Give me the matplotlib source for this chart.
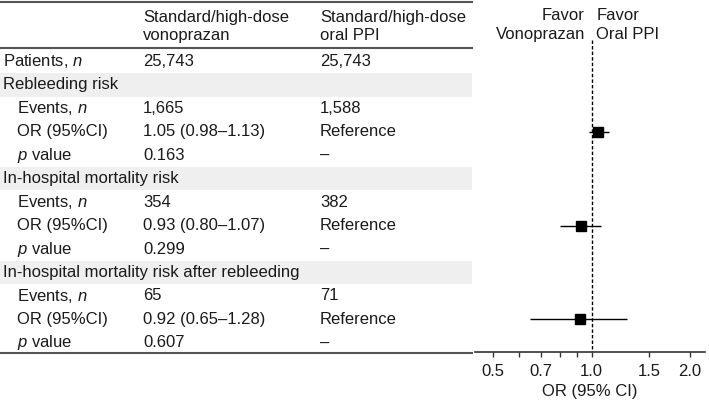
import numpy as np
import matplotlib.pyplot as plt
from matplotlib.patches import Rectangle

plt.rcParams['font.family'] = ['Liberation Sans', 'DejaVu Sans']
plt.rcParams['mathtext.fontset'] = 'custom'
plt.rcParams['mathtext.rm'] = 'Liberation Sans'
plt.rcParams['mathtext.it'] = 'Liberation Sans:italic'

# table content
col_headers = ['Standard/high-dose\nvonoprazan', 'Standard/high-dose\noral PPI']
row_labels = ['Patients, $\\it{n}$', 'Rebleeding risk', 'Events, $\\it{n}$', 'OR (95%CI)', '$\\it{p}$ value',
              'In-hospital mortality risk', 'Events, $\\it{n}$', 'OR (95%CI)', '$\\it{p}$ value',
              'In-hospital mortality risk after rebleeding', 'Events, $\\it{n}$', 'OR (95%CI)', '$\\it{p}$ value']
row_kind = ['top', 'group', 'sub', 'sub', 'sub', 'group', 'sub', 'sub', 'sub', 'group', 'sub', 'sub', 'sub']
vono_col = ['25,743', '', '1,665', '1.05 (0.98\u20131.13)', '0.163', '', '354', '0.93 (0.80\u20131.07)', '0.299',
            '', '65', '0.92 (0.65\u20131.28)', '0.607']
ppi_col = ['25,743', '', '1,588', 'Reference', '\u2013', '', '382', 'Reference', '\u2013',
           '', '71', 'Reference', '\u2013']

# forest data (OR rows)
or_rows = [3, 7, 11]
or_est = [1.05, 0.93, 0.92]
or_lo = [0.98, 0.80, 0.65]
or_hi = [1.13, 1.07, 1.28]

W, H = 709, 404
fs = 12
fig = plt.figure(figsize=(W / 100, H / 100), dpi=100)

tab = fig.add_axes([0, 0, 1, 1])
tab.set_xlim(0, W)
tab.set_ylim(H, 0)
tab.axis('off')

y0, dy = 61.5, 23.45
row_y = y0 + dy * np.arange(len(row_labels))
table_right = 472
line_col = '#555555'
txt_col = '#1a1a1a'

tab.plot([0, table_right], [2, 2], color=line_col, lw=1.5)
tab.plot([0, table_right], [48, 48], color=line_col, lw=1.5)
tab.plot([0, table_right], [353, 353], color=line_col, lw=1.5)

tab.text(143, 26.5, col_headers[0], fontsize=fs, va='center', ha='left', linespacing=1.3, color=txt_col)
tab.text(320, 26.5, col_headers[1], fontsize=fs, va='center', ha='left', linespacing=1.3, color=txt_col)

for i, y in enumerate(row_y):
    if row_kind[i] == 'group':
        tab.add_patch(Rectangle((0, y - dy / 2), table_right, dy, color='#efefef', lw=0, zorder=0))
    x = 17 if row_kind[i] == 'sub' else 3
    tab.text(x, y, row_labels[i], fontsize=fs, va='center', ha='left', color=txt_col)
    tab.text(143, y, vono_col[i], fontsize=fs, va='center', ha='left', color=txt_col)
    tab.text(320, y, ppi_col[i], fontsize=fs, va='center', ha='left', color=txt_col)

# forest plot axes, vertical range in pixel rows (top = 0, bottom = 352)
ax_bottom = 352
ax = fig.add_axes([475 / W, (H - ax_bottom) / H, (705 - 475) / W, ax_bottom / H])
ax.set_xscale('log')
ax.set_xlim(0.441, 2.22)
ax.set_ylim(ax_bottom, 0)
ax.patch.set_alpha(0)
for s in ['top', 'right', 'left']:
    ax.spines[s].set_visible(False)
ax.spines['bottom'].set_color('#333333')
ax.spines['bottom'].set_linewidth(1.2)
ax.set_yticks([])

ax.vlines(1.0, 40, ax_bottom, colors='black', linestyles=(0, (2.5, 1.5)), lw=1)

ys = row_y[or_rows]
ax.hlines(ys, or_lo, or_hi, colors='black', lw=1)
ax.plot(or_est, ys, 's', color='black', markersize=7.5, linestyle='none')

major = [0.5, 0.7, 1.0, 1.5, 2.0]
minor = [0.6, 0.8, 0.9]
ax.set_xticks(major)
ax.set_xticklabels(['0.5', '0.7', '1.0', '1.5', '2.0'], fontsize=fs, color=txt_col)
ax.set_xticks(minor, minor=True)
ax.xaxis.set_minor_formatter(plt.NullFormatter())
ax.tick_params(axis='x', which='both', length=3.5, width=1, color='#333333', pad=5)
ax.set_xlabel('OR (95% CI)', fontsize=fs, labelpad=4, color=txt_col)

ax.text(0.955, 25, 'Favor\nVonoprazan', fontsize=fs, ha='right', va='center', linespacing=1.3,
        multialignment='right', color=txt_col)
ax.text(1.035, 25, 'Favor\nOral PPI', fontsize=fs, ha='left', va='center', linespacing=1.3, color=txt_col)

fig.savefig('out.png', dpi=100)
